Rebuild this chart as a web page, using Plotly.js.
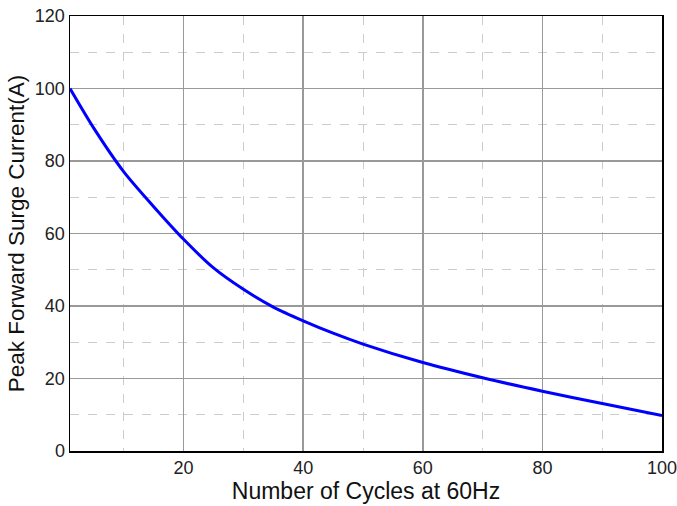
<!DOCTYPE html>
<html><head><meta charset="utf-8">
<script src="https://cdn.plot.ly/plotly-3.0.1.min.js"></script>
<style>body{margin:0;background:#fff}#c{width:677px;height:506px}</style>
</head><body><div id="c"></div>
<script>
const cycles = [1, 5, 10, 15, 20, 25, 30, 35, 40, 45, 50, 60, 70, 80, 90, 100];
const current = [100, 89.0, 77.0, 67.4, 58.4, 50.5, 44.6, 39.7, 35.9, 32.5, 29.5, 24.4, 20.2, 16.5, 13.1, 9.8];
const xTitle = 'Number of Cycles at 60Hz';
const yTitle = 'Peak Forward Surge Current(A)';

const fam = 'Liberation Sans, Arial, sans-serif';
Plotly.newPlot('c', [{
  x: cycles, y: current, type: 'scatter', mode: 'lines',
  line: {color: '#0000ff', width: 3, shape: 'spline', smoothing: 0.8}
}], {
  width: 677, height: 506,
  margin: {l: 70, r: 15, t: 16, b: 55},
  paper_bgcolor: '#fff', plot_bgcolor: '#fff',
  font: {family: fam, color: '#000'},
  showlegend: false,
  xaxis: {
    range: [1, 100], tick0: 0, dtick: 20,
    showline: true, linecolor: '#000', linewidth: 1.5, mirror: true,
    gridcolor: '#999', gridwidth: 1.5, zeroline: false,
    ticks: '', ticklabeloverflow: 'allow',
    tickfont: {size: 18, family: fam, color: '#222'},
    minor: {dtick: 10, tick0: 0, showgrid: true, gridcolor: '#ccc', griddash: 'dash', gridwidth: 1},
    title: {text: xTitle, font: {size: 23, family: fam, color: '#111'}, standoff: 4}
  },
  yaxis: {
    range: [0, 120], tick0: 0, dtick: 20,
    showline: true, linecolor: '#000', linewidth: 1.5, mirror: true,
    gridcolor: '#999', gridwidth: 1.5, zeroline: false,
    ticks: '', ticklabeloverflow: 'allow',
    tickfont: {size: 18, family: fam, color: '#222'},
    minor: {dtick: 10, tick0: 0, showgrid: true, gridcolor: '#ccc', griddash: 'dash', gridwidth: 1},
    title: {text: yTitle, font: {size: 22.5, family: fam, color: '#111'}, standoff: 4}
  }
}, {staticPlot: true});
</script></body></html>
